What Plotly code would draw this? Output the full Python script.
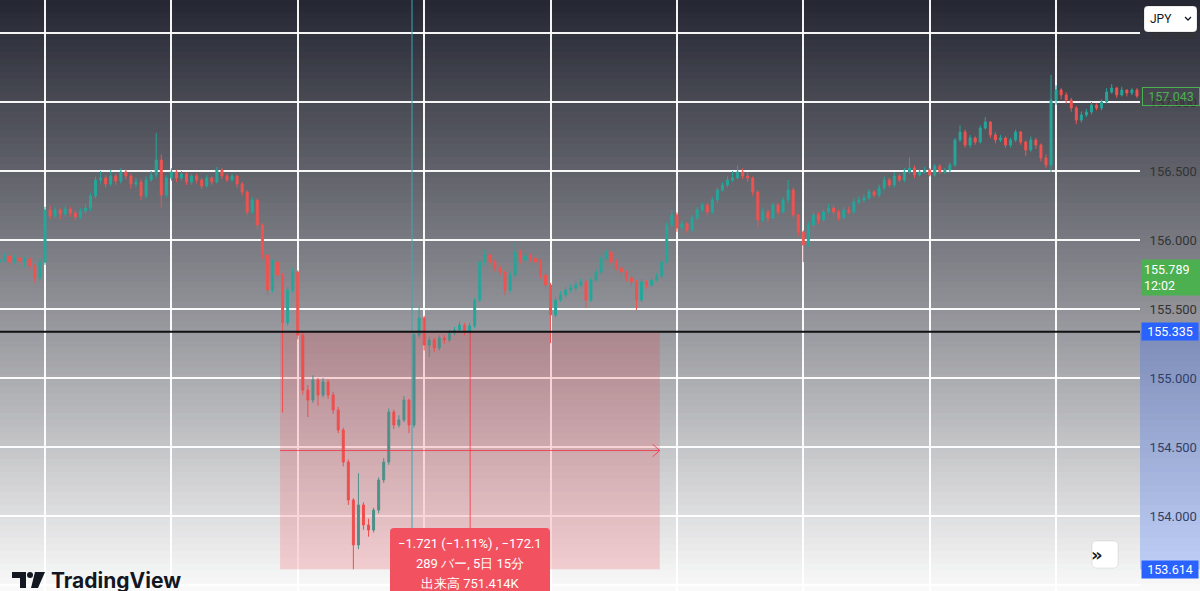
import plotly.graph_objects as go

# USD/JPY candles (one candle ~ every 5 px)
closes = [
    155.855, 155.884, 155.840, 155.869, 155.848, 155.862, 155.811, 155.725, 155.840, 156.217,
    156.174, 156.217, 156.188, 156.225, 156.196, 156.167, 156.210, 156.232, 156.319, 156.435,
    156.449, 156.406, 156.464, 156.427, 156.493, 156.464, 156.406, 156.420, 156.319, 156.435,
    156.471, 156.580, 156.326, 156.449, 156.493, 156.449, 156.478, 156.420, 156.464, 156.435,
    156.391, 156.449, 156.420, 156.507, 156.464, 156.435, 156.464, 156.406, 156.348, 156.203,
    156.290, 156.109, 155.891, 155.638, 155.840, 155.746, 155.400, 155.638, 155.768, 155.311,
    154.913, 154.840, 154.985, 154.877, 154.971, 154.877, 154.768, 154.623, 154.391, 154.116,
    153.790, 154.080, 153.935, 153.898, 154.043, 154.261, 154.391, 154.753, 154.659, 154.696,
    154.840, 154.659, 155.311, 155.435, 155.239, 155.275, 155.217, 155.290, 155.275, 155.326,
    155.348, 155.384, 155.333, 155.377, 155.565, 155.840, 155.891, 155.840, 155.797, 155.768,
    155.638, 155.746, 155.913, 155.855, 155.884, 155.869, 155.840, 155.746, 155.674, 155.456,
    155.565, 155.601, 155.638, 155.652, 155.674, 155.696, 155.565, 155.710, 155.768, 155.869,
    155.913, 155.840, 155.797, 155.768, 155.725, 155.696, 155.565, 155.696, 155.674, 155.710,
    155.739, 155.840, 156.109, 156.181, 156.087, 156.116, 156.072, 156.159, 156.217, 156.253,
    156.203, 156.290, 156.362, 156.398, 156.435, 156.449, 156.493, 156.464, 156.449, 156.348,
    156.145, 156.203, 156.159, 156.253, 156.203, 156.290, 156.362, 156.181, 156.058, 155.964,
    156.109, 156.181, 156.145, 156.203, 156.232, 156.203, 156.159, 156.217, 156.203, 156.275,
    156.290, 156.304, 156.348, 156.326, 156.377, 156.435, 156.398, 156.464, 156.435, 156.493,
    156.522, 156.471, 156.493, 156.507, 156.471, 156.536, 156.493, 156.507, 156.543, 156.725,
    156.782, 156.688, 156.739, 156.710, 156.811, 156.855, 156.761, 156.725, 156.739, 156.688,
    156.725, 156.782, 156.710, 156.652, 156.725, 156.688, 156.594, 156.543, 157.014, 157.087,
    157.051, 157.014, 156.956, 156.869, 156.906, 156.927, 156.978, 156.956, 157.000, 157.072,
    157.101, 157.051, 157.087, 157.065, 157.087, 157.043,
]
highs = [
    155.885, 155.905, 155.900, 155.890, 155.880, 155.880, 155.875, 155.830, 155.870, 156.240,
    156.250, 156.240, 156.230, 156.250, 156.240, 156.210, 156.230, 156.260, 156.340, 156.460,
    156.500, 156.470, 156.510, 156.480, 156.520, 156.510, 156.480, 156.450, 156.440, 156.460,
    156.500, 156.775, 156.620, 156.470, 156.520, 156.510, 156.500, 156.490, 156.480, 156.480,
    156.450, 156.470, 156.460, 156.530, 156.520, 156.480, 156.480, 156.470, 156.420, 156.360,
    156.310, 156.300, 156.120, 155.900, 155.860, 155.850, 155.760, 155.660, 155.800, 155.780,
    155.330, 154.950, 155.020, 155.000, 155.000, 154.990, 154.900, 154.790, 154.640, 154.410,
    154.130, 154.310, 154.100, 153.980, 154.060, 154.280, 154.420, 154.780, 154.770, 154.730,
    154.870, 154.850, 155.340, 155.510, 155.450, 155.300, 155.290, 155.310, 155.310, 155.350,
    155.370, 155.410, 155.400, 155.400, 155.580, 155.860, 155.930, 155.900, 155.860, 155.820,
    155.780, 155.770, 155.980, 155.930, 155.910, 155.900, 155.890, 155.860, 155.760, 155.690,
    155.590, 155.630, 155.660, 155.680, 155.700, 155.720, 155.710, 155.730, 155.790, 155.890,
    155.930, 155.920, 155.860, 155.810, 155.780, 155.750, 155.710, 155.720, 155.710, 155.730,
    155.760, 155.860, 156.130, 156.220, 156.200, 156.140, 156.130, 156.180, 156.240, 156.270,
    156.270, 156.310, 156.380, 156.420, 156.460, 156.500, 156.540, 156.520, 156.490, 156.460,
    156.360, 156.230, 156.220, 156.270, 156.270, 156.310, 156.435, 156.380, 156.190, 156.070,
    156.130, 156.200, 156.200, 156.220, 156.260, 156.250, 156.220, 156.240, 156.240, 156.300,
    156.320, 156.330, 156.370, 156.360, 156.400, 156.460, 156.450, 156.490, 156.480, 156.520,
    156.600, 156.540, 156.510, 156.530, 156.520, 156.550, 156.550, 156.520, 156.560, 156.740,
    156.830, 156.800, 156.760, 156.750, 156.830, 156.890, 156.860, 156.780, 156.760, 156.750,
    156.740, 156.800, 156.790, 156.720, 156.750, 156.740, 156.700, 156.620, 157.196, 157.120,
    157.100, 157.070, 157.030, 156.970, 156.930, 156.950, 157.000, 156.990, 157.020, 157.100,
    157.130, 157.110, 157.110, 157.090, 157.100, 157.100,
]
lows = [
    155.820, 155.840, 155.810, 155.830, 155.830, 155.800, 155.780, 155.690, 155.710, 155.820,
    156.150, 156.160, 156.150, 156.170, 156.170, 156.140, 156.150, 156.190, 156.210, 156.300,
    156.410, 156.380, 156.390, 156.400, 156.410, 156.440, 156.370, 156.380, 156.290, 156.300,
    156.420, 156.450, 156.232, 156.310, 156.430, 156.420, 156.430, 156.400, 156.400, 156.410,
    156.370, 156.380, 156.400, 156.410, 156.440, 156.420, 156.420, 156.380, 156.320, 156.180,
    156.190, 156.080, 155.860, 155.600, 155.620, 155.720, 154.750, 155.380, 155.620, 155.280,
    154.880, 154.717, 154.820, 154.800, 154.860, 154.850, 154.740, 154.600, 154.360, 154.080,
    153.614, 153.760, 153.900, 153.850, 153.880, 154.020, 154.240, 154.370, 154.630, 154.640,
    154.680, 154.600, 154.640, 155.290, 155.200, 155.152, 155.190, 155.200, 155.250, 155.260,
    155.310, 155.330, 155.310, 155.320, 155.360, 155.550, 155.820, 155.820, 155.770, 155.740,
    155.600, 155.620, 155.730, 155.830, 155.840, 155.840, 155.820, 155.720, 155.650, 155.253,
    155.440, 155.550, 155.580, 155.620, 155.630, 155.660, 155.507, 155.550, 155.700, 155.750,
    155.860, 155.820, 155.780, 155.740, 155.700, 155.670, 155.493, 155.550, 155.650, 155.660,
    155.700, 155.720, 155.830, 156.090, 156.060, 156.070, 156.050, 156.060, 156.140, 156.200,
    156.180, 156.190, 156.270, 156.350, 156.380, 156.420, 156.440, 156.440, 156.420, 156.320,
    156.090, 156.130, 156.130, 156.150, 156.180, 156.190, 156.270, 156.160, 156.030, 155.840,
    155.950, 156.090, 156.120, 156.130, 156.190, 156.180, 156.140, 156.150, 156.190, 156.190,
    156.260, 156.270, 156.290, 156.310, 156.310, 156.360, 156.380, 156.380, 156.420, 156.420,
    156.480, 156.450, 156.460, 156.480, 156.460, 156.460, 156.480, 156.480, 156.490, 156.530,
    156.710, 156.670, 156.670, 156.690, 156.700, 156.800, 156.740, 156.700, 156.710, 156.670,
    156.670, 156.710, 156.690, 156.610, 156.640, 156.660, 156.570, 156.520, 156.493, 156.980,
    157.020, 156.990, 156.930, 156.840, 156.850, 156.890, 156.910, 156.940, 156.940, 156.990,
    157.060, 157.030, 157.040, 157.040, 157.050, 157.030,
]
first_open = 155.840

y_ticks = [153.5, 154.0, 154.5, 155.0, 155.5, 156.0, 156.5, 157.0, 157.5]
last_price = 157.043
countdown_price = "155.789"
countdown_time = "12:02"
measure_top = 155.335
measure_bottom = 153.614
measure_start_bar = 56.5
measure_end_bar = 131.6
measure_mid_bar = 94.1
crosshair_bar = 82.6
measure_text = ["−1.721 (−1.11%) , −172.1", "289 バー, 5日 15分", "出来高 751.414K"]

opens = [first_open] + closes[:-1]
highs = [max(h, o, c) for h, o, c in zip(highs, opens, closes)]
lows = [min(l, o, c) for l, o, c in zip(lows, opens, closes)]
bars = list(range(1, len(closes) + 1))

W, H, PLOT_W = 1200, 591, 1140
Y_RANGE = [153.4565, 157.7391]
UP, DOWN = "#26a69a", "#ef5350"


def X(px):
    return px / PLOT_W


def Y(py):
    return 1 - py / H


def rounded(x0, y0, x1, y1, r):
    # rounded rectangle in pixel coords -> paper path
    return (f"M{X(x0 + r)},{Y(y0)} L{X(x1 - r)},{Y(y0)} Q{X(x1)},{Y(y0)} {X(x1)},{Y(y0 + r)} "
            f"L{X(x1)},{Y(y1 - r)} Q{X(x1)},{Y(y1)} {X(x1 - r)},{Y(y1)} "
            f"L{X(x0 + r)},{Y(y1)} Q{X(x0)},{Y(y1)} {X(x0)},{Y(y1 - r)} "
            f"L{X(x0)},{Y(y0 + r)} Q{X(x0)},{Y(y0)} {X(x0 + r)},{Y(y0)} Z")


fig = go.Figure()
fig.add_trace(go.Candlestick(
    x=bars, open=opens, high=highs, low=lows, close=closes,
    increasing=dict(line=dict(color=UP, width=1), fillcolor=UP),
    decreasing=dict(line=dict(color=DOWN, width=1), fillcolor=DOWN),
    hoverinfo="skip", showlegend=False,
))

shapes = []
# background gradient (dark top -> white bottom)
stops = [(0.0, (36, 38, 50)), (0.5, (140, 141, 147)), (1.0, (250, 250, 250))]
n = 90
for k in range(n):
    t = (k + 0.5) / n
    for (a, ca), (b, cb) in zip(stops[:-1], stops[1:]):
        if a <= t <= b:
            f = (t - a) / (b - a)
            col = tuple(round(ca[j] + (cb[j] - ca[j]) * f) for j in range(3))
            break
    shapes.append(dict(type="rect", xref="paper", yref="paper", x0=-0.01, x1=1.07,
                       y0=1 - (k + 1) / n - 0.001, y1=1 - k / n + 0.001,
                       fillcolor=f"rgb{col}", line_width=0, layer="below"))

# measurement box
shapes.append(dict(type="rect", xref="x", yref="y", x0=measure_start_bar, x1=measure_end_bar,
                   y0=measure_bottom, y1=measure_top, fillcolor="rgba(242,54,69,0.2)",
                   line_width=0, layer="above"))
mid = (measure_top + measure_bottom) / 2
shapes.append(dict(type="line", xref="x", yref="y", x0=measure_start_bar, x1=measure_end_bar,
                   y0=mid, y1=mid, line=dict(color="rgba(242,54,69,0.8)", width=1)))
shapes.append(dict(type="path", xref="x", yref="y",
                   path=f"M{measure_end_bar - 1.4},{mid + 0.045} L{measure_end_bar},{mid} "
                        f"L{measure_end_bar - 1.4},{mid - 0.045}",
                   line=dict(color="rgba(242,54,69,0.8)", width=1)))
shapes.append(dict(type="line", xref="x", yref="y", x0=measure_mid_bar, x1=measure_mid_bar,
                   y0=measure_bottom, y1=measure_top, line=dict(color="rgba(242,54,69,0.8)", width=1)))
# crosshair
shapes.append(dict(type="line", xref="x", yref="paper", x0=crosshair_bar, x1=crosshair_bar,
                   y0=Y(530), y1=1, line=dict(color="#3ca6b4", width=1)))
# horizontal line
shapes.append(dict(type="line", xref="paper", yref="y", x0=0, x1=1, y0=measure_top,
                   y1=measure_top, line=dict(color="#111111", width=2)))
# axis highlight of measured range
shapes.append(dict(type="rect", xref="paper", yref="y", x0=1.0, x1=1.06, y0=measure_bottom,
                   y1=measure_top, fillcolor="rgba(41,98,255,0.25)", line_width=0))
# measurement label box
shapes.append(dict(type="path", xref="paper", yref="paper", path=rounded(390, 528, 550, 600, 4),
                   fillcolor="#f2525f", line_width=0))
# JPY selector
shapes.append(dict(type="path", xref="paper", yref="paper", path=rounded(1144, 6, 1197, 32, 4),
                   fillcolor="white", line=dict(color="rgba(0,0,0,0.15)", width=1)))
shapes.append(dict(type="path", xref="paper", yref="paper",
                   path=f"M{X(1185)},{Y(17)} L{X(1188)},{Y(20)} L{X(1191)},{Y(17)}",
                   line=dict(color="#131722", width=1.3)))
# scroll-to-latest button
shapes.append(dict(type="path", xref="paper", yref="paper", path=rounded(1092, 541, 1118, 568, 4),
                   fillcolor="white", line=dict(color="rgba(0,0,0,0.08)", width=1)))
# TradingView logo mark
shapes.append(dict(type="path", xref="paper", yref="paper",
                   path=f"M{X(12)},{Y(572)} L{X(26)},{Y(572)} L{X(26)},{Y(588)} L{X(20)},{Y(588)} "
                        f"L{X(20)},{Y(578)} L{X(12)},{Y(578)} Z",
                   fillcolor="#131722", line_width=0))
shapes.append(dict(type="circle", xref="paper", yref="paper", x0=X(27), x1=X(33), y0=Y(578),
                   y1=Y(572), fillcolor="#131722", line_width=0))
shapes.append(dict(type="path", xref="paper", yref="paper",
                   path=f"M{X(35)},{Y(572)} L{X(45)},{Y(572)} L{X(38)},{Y(588)} L{X(31)},{Y(588)} Z",
                   fillcolor="#131722", line_width=0))

annotations = []
for k, line in enumerate(measure_text):
    annotations.append(dict(xref="paper", yref="paper", x=X(470), y=Y(543 + 20 * k), text=line,
                            yanchor="middle", showarrow=False,
                            font=dict(color="white", size=13, family="Roboto")))
label_font = dict(color="white", size=12.5, family="Roboto")
annotations.append(dict(xref="paper", yref="y", x=1.0, y=last_price, xanchor="left", yanchor="middle",
                        text=f"{last_price:.3f}", showarrow=False, bordercolor="#4caf50", borderwidth=1,
                        borderpad=1, width=54, font=dict(color="#4caf50", size=12.5, family="Roboto"),
                        xshift=2))
annotations.append(dict(xref="paper", yref="paper", x=1.0, y=Y(259), xanchor="left", yanchor="top",
                        text=f"{countdown_price}<br>{countdown_time}", align="left", showarrow=False,
                        bgcolor="#4caf50", width=54, borderpad=2, font=label_font, xshift=1))
for price in (measure_top, measure_bottom):
    annotations.append(dict(xref="paper", yref="y", x=1.0, y=price, xanchor="left", yanchor="middle",
                            text=f"{price:.3f}", showarrow=False, bgcolor="#2962ff", width=54,
                            borderpad=1, font=label_font, xshift=1))
annotations.append(dict(xref="paper", yref="paper", x=X(1148), y=Y(19), xanchor="left", yanchor="middle",
                        text="JPY", showarrow=False, font=dict(color="#131722", size=12, family="Roboto")))
annotations.append(dict(xref="paper", yref="paper", x=X(1105), y=Y(554), yanchor="middle",
                        text="<b>»</b>", showarrow=False,
                        font=dict(color="#131722", size=18, family="DejaVu Sans")))
annotations.append(dict(xref="paper", yref="paper", x=X(49), y=Y(580), xanchor="left", yanchor="middle",
                        text="<b>TradingView</b>", showarrow=False,
                        font=dict(color="#131722", size=21, family="Inter")))

fig.update_layout(
    width=W, height=H,
    margin=dict(l=0, r=W - PLOT_W, t=0, b=0),
    paper_bgcolor="white", plot_bgcolor="rgba(0,0,0,0)",
    shapes=shapes, annotations=annotations,
    showlegend=False, boxgap=0.45,
    xaxis=dict(range=[1.1, 226.6], rangeslider=dict(visible=False), showticklabels=False,
               tickmode="linear", tick0=10, dtick=25, showgrid=True,
               gridcolor="rgba(255,255,255,0.95)", gridwidth=1.5, zeroline=False, showline=False),
    yaxis=dict(range=Y_RANGE, side="right", tickmode="array", tickvals=y_ticks,
               ticktext=[f"{v:.3f}" for v in y_ticks], showgrid=True,
               gridcolor="rgba(255,255,255,0.95)", gridwidth=1.5, zeroline=False, showline=False,
               ticks="outside", ticklen=6, tickcolor="rgba(0,0,0,0)",
               tickfont=dict(color="#333333", size=13, family="Roboto")),
)

fig.write_html("out.html", config={"displayModeBar": False},
               post_script="document.body.style.margin='0';document.body.style.overflow='hidden';")
